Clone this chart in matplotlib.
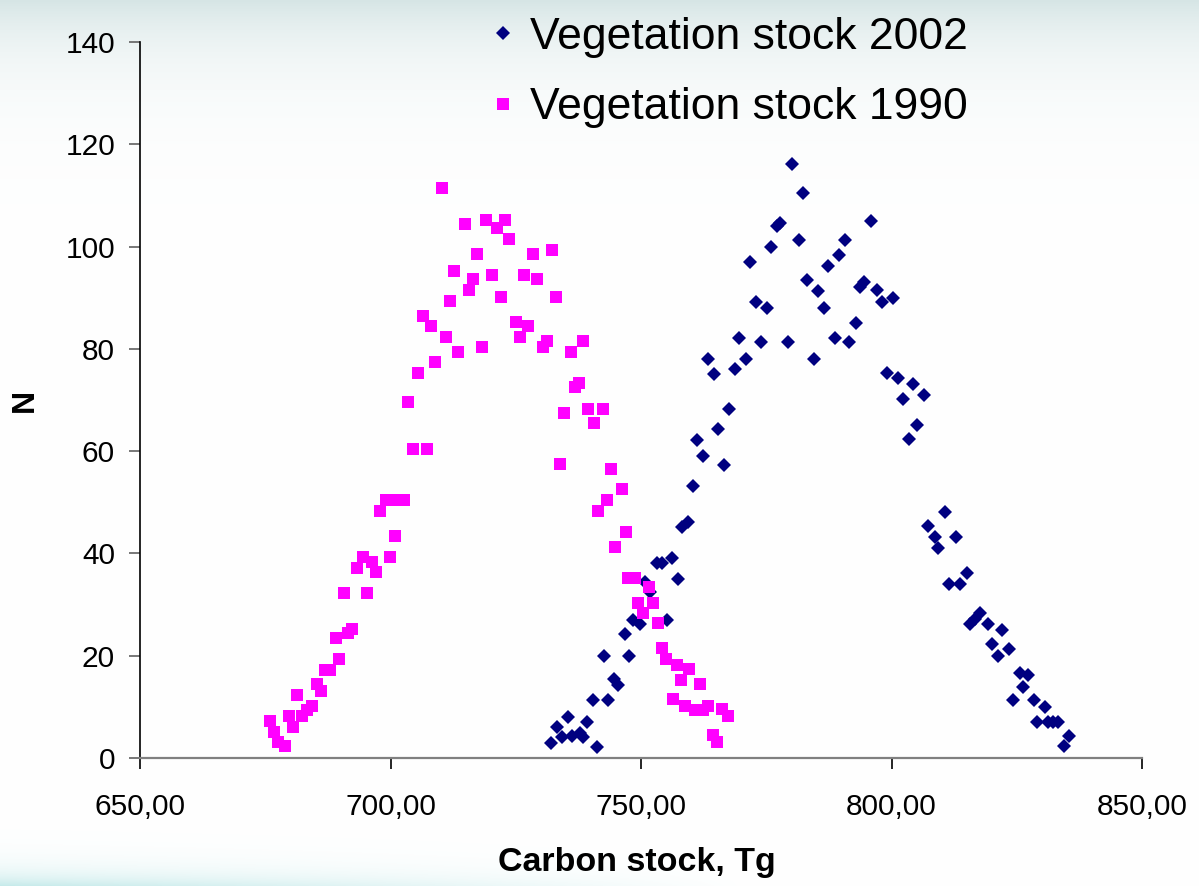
import matplotlib
matplotlib.use('Agg')
import matplotlib.pyplot as plt
import numpy as np

plt.rcParams['font.family'] = ['Liberation Sans', 'DejaVu Sans']

# Vegetation carbon stock, 2002 (Tg) and number of runs N
stock_2002 = [732.0, 733.2, 734.2, 735.4, 736.2, 737.8, 738.4, 739.2, 740.4, 741.2,
              742.6, 743.4, 744.6, 745.4, 746.8, 747.6, 748.4, 749.8, 750.8, 751.8,
              753.2, 754.2, 755.2, 756.2, 757.4, 758.2, 759.4, 760.4, 761.2, 762.4,
              763.4, 764.6, 766.6, 765.4, 767.6, 768.8, 769.6, 771.0, 771.8, 773.0,
              774.0, 775.1, 775.9, 777.1, 777.7, 779.3, 780.1, 781.5, 782.3, 783.1,
              784.5, 785.3, 786.5, 787.3, 788.7, 789.5, 790.7, 791.5, 792.9, 793.7,
              794.5, 795.9, 797.1, 798.1, 799.1, 800.3, 801.3, 802.3, 803.5, 804.3,
              805.1, 806.5, 807.3, 808.7, 809.3, 810.7, 811.5, 812.9, 813.7, 815.1,
              815.7, 816.7, 817.7, 819.3, 820.1, 821.3, 822.1, 823.5, 824.3, 825.6,
              826.2, 827.2, 828.4, 829.0, 830.6, 831.2, 832.2, 833.2, 834.4, 835.4]
n_2002 = [2.9, 6.1, 4.1, 8.0, 4.3, 4.9, 4.1, 7.0, 11.3, 2.2,
          19.9, 11.3, 15.4, 14.3, 24.2, 19.9, 27.0, 26.2, 34.4, 32.5,
          38.1, 38.1, 27.0, 39.1, 35.0, 45.2, 46.1, 53.2, 62.2, 59.1,
          78.0, 75.1, 57.3, 64.3, 68.2, 76.1, 82.1, 78.0, 97.0, 89.2,
          81.3, 88.0, 99.9, 104.0, 104.6, 81.3, 116.2, 101.3, 110.5, 93.5,
          78.0, 91.3, 88.0, 96.2, 82.1, 98.4, 101.3, 81.3, 85.1, 92.1,
          93.1, 105.0, 91.5, 89.2, 75.3, 90.0, 74.3, 70.2, 62.4, 73.1,
          65.1, 71.0, 45.4, 43.2, 41.1, 48.1, 34.0, 43.2, 34.0, 36.2,
          26.2, 27.2, 28.4, 26.2, 22.3, 19.9, 25.0, 21.3, 11.3, 16.6,
          13.9, 16.2, 11.3, 7.0, 10.0, 7.0, 7.0, 7.0, 2.3, 4.3]

# Vegetation carbon stock, 1990
stock_1990 = [675.9, 676.7, 677.5, 678.9, 679.7, 680.5, 681.3, 682.3, 683.3, 684.3,
              685.3, 686.1, 686.9, 687.9, 689.1, 689.7, 690.7, 691.5, 692.3, 693.3,
              694.5, 695.3, 696.3, 697.1, 697.9, 699.1, 699.9, 700.9, 701.5, 702.7,
              703.5, 704.5, 705.5, 706.5, 707.3, 708.1, 708.9, 710.3, 711.1, 711.9,
              712.7, 713.5, 714.9, 715.7, 716.5, 717.3, 718.3, 719.1, 720.3, 721.3,
              722.1, 722.9, 723.7, 725.1, 725.8, 726.6, 727.4, 728.4, 729.2, 730.4,
              731.2, 732.2, 733.0, 733.8, 734.6, 736.0, 736.8, 737.6, 738.4, 739.4,
              740.6, 741.4, 742.4, 743.2, 744.0, 744.8, 746.2, 747.0, 747.4, 748.8,
              749.4, 750.4, 751.6, 752.4, 753.4, 754.2, 755.0, 756.4, 757.2, 758.0,
              758.8, 759.6, 760.8, 761.8, 762.4, 763.4, 764.4, 765.2, 766.2, 767.4]
n_1990 = [7.2, 5.1, 3.1, 2.3, 8.2, 6.1, 12.3, 8.2, 9.4, 10.2,
          14.5, 13.1, 17.2, 17.2, 23.5, 19.4, 32.3, 24.4, 25.2, 37.2,
          39.3, 32.3, 38.3, 36.4, 48.3, 50.4, 39.3, 43.4, 50.4, 50.4,
          69.6, 60.4, 75.3, 86.4, 60.4, 84.5, 77.4, 111.5, 82.3, 89.4,
          95.2, 79.4, 104.4, 91.5, 93.7, 98.6, 80.4, 105.2, 94.4, 103.6,
          90.1, 105.2, 101.5, 85.3, 82.3, 94.4, 84.5, 98.6, 93.7, 80.4,
          81.5, 99.3, 90.1, 57.5, 67.5, 79.4, 72.5, 73.3, 81.5, 68.2,
          65.5, 48.3, 68.2, 50.4, 56.5, 41.3, 52.6, 44.2, 35.2, 35.2,
          30.3, 28.4, 33.4, 30.3, 26.4, 21.5, 19.4, 11.5, 18.2, 15.3,
          10.2, 17.4, 9.4, 14.5, 9.4, 10.2, 4.5, 3.1, 9.6, 8.2]

x_ticks = [650, 700, 750, 800, 850]
y_ticks = [0, 20, 40, 60, 80, 100, 120, 140]

W, H = 1199, 886
fig = plt.figure(figsize=(W / 100, H / 100), dpi=100)

# slide background: pale teal band at the top, faint haze bottom-left
yy = np.arange(H)[:, None].astype(float)
xx = np.arange(W)[None, :].astype(float)
top = np.exp(-yy / 55.0)
low = np.exp(-(H - 1 - yy) / 14.0) * np.clip(1 - xx / 750.0, 0, 1)
bg = np.ones((H, W, 3))
for k, (t1, t2) in enumerate(zip((0.84, 0.90, 0.90), (0.78, 0.92, 0.92))):
    bg[:, :, k] = 1 - top * (1 - t1) - low * (1 - t2)
bg = np.clip(bg, 0, 1)
bax = fig.add_axes([0, 0, 1, 1], zorder=-1)
bax.imshow(bg, aspect='auto')
bax.axis('off')

ax = fig.add_axes([140 / W, 1 - 758 / H, 1002 / W, 716 / H])
ax.patch.set_alpha(0)

ax.plot(stock_2002, n_2002, ls='none', marker='D', ms=7.5, mew=0,
        color='#000080', label='Vegetation stock 2002')
ax.plot(stock_1990, n_1990, ls='none', marker='s', ms=9.0, mew=0,
        color='#ff00ff', label='Vegetation stock 1990')

ax.set_xlim(650, 850)
ax.set_ylim(0, 140)
ax.set_xticks(x_ticks)
ax.set_xticklabels(['{:.2f}'.format(v).replace('.', ',') for v in x_ticks])
ax.set_yticks(y_ticks)

for s in ('top', 'right'):
    ax.spines[s].set_visible(False)
ax.spines['left'].set_color('black')
ax.spines['left'].set_linewidth(1.2)
ax.spines['bottom'].set_color('#808080')
ax.spines['bottom'].set_linewidth(1.6)
ax.tick_params(axis='x', length=8, width=1.2, color='black', pad=17, labelsize=21.5)
ax.tick_params(axis='y', length=8, width=1.2, color='#606060', pad=10, labelsize=21.5)

fig.text(25 / W, 1 - 400 / H, 'N', rotation=90, ha='center', va='center',
         fontsize=23, fontweight='bold')
fig.text(637 / W, 1 - 862 / H, 'Carbon stock, Tg', ha='center', va='center',
         fontsize=24.5, fontweight='bold')

ax.legend(loc='upper left', bbox_to_anchor=(492 / W, 1 - 17 / H),
          bbox_transform=fig.transFigure, frameon=False, fontsize=32,
          handlelength=0.5, handletextpad=0.36, labelspacing=0.66,
          borderpad=0, borderaxespad=0, markerscale=0.9)

fig.savefig('out.png', dpi=100)
